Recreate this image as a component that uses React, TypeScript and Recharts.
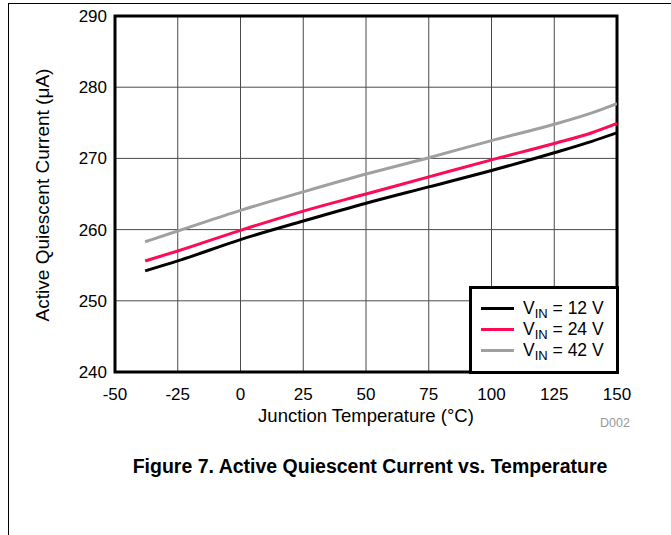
import { LineChart, Line, XAxis, YAxis, CartesianGrid, Legend, ReferenceArea, Label } from "recharts";

const temps = [-38, -25, 0, 25, 50, 75, 100, 125, 140, 150];
const vin12 = [254.2, 255.6, 258.6, 261.2, 263.7, 266.0, 268.3, 270.8, 272.4, 273.6];
const vin24 = [255.6, 257.0, 259.9, 262.6, 265.0, 267.4, 269.8, 272.1, 273.6, 274.9];
const vin42 = [258.3, 259.8, 262.7, 265.3, 267.8, 270.1, 272.5, 274.8, 276.4, 277.7];

const xTicks = [-50, -25, 0, 25, 50, 75, 100, 125, 150];
const yTicks = [240, 250, 260, 270, 280, 290];

const series = [
  { key: "v12", volts: "12", color: "#000000" },
  { key: "v24", volts: "24", color: "#ff0a55" },
  { key: "v42", volts: "42", color: "#a0a0a0" },
];

const data = temps.map((t, i) => ({ t, v12: vin12[i], v24: vin24[i], v42: vin42[i] }));

const FONT = '"Liberation Sans", Arial, Helvetica, sans-serif';

function LegendBox() {
  return (
    <div
      style={{
        boxSizing: "border-box",
        width: 150,
        height: 88,
        border: "3px solid #000",
        background: "#fff",
        paddingTop: 9,
        fontFamily: FONT,
        fontSize: 17.5,
        color: "#000",
      }}
    >
      {series.map((s) => (
        <div key={s.key} style={{ display: "flex", alignItems: "center", height: 21, lineHeight: "21px" }}>
          <span style={{ display: "inline-block", width: 33, height: 3, background: s.color, marginLeft: 9, marginRight: 9 }} />
          <span style={{ whiteSpace: "nowrap" }}>
            V<span style={{ fontSize: 13, position: "relative", top: 4 }}>IN</span> = {s.volts} V
          </span>
        </div>
      ))}
    </div>
  );
}

export default function App() {
  return (
    <div style={{ position: "absolute", left: 0, top: 0, width: 671, height: 535, background: "#fff", fontFamily: FONT }}>
      <div style={{ position: "absolute", left: 8, top: 3, width: 663, height: 1, background: "#000" }} />
      <div style={{ position: "absolute", left: 8, top: 3, width: 1, height: 532, background: "#000" }} />
      <LineChart width={671} height={535} data={data} margin={{ top: 16, right: 54, bottom: 133, left: 0 }}>
        <CartesianGrid stroke="#4a4a4a" strokeWidth={1} />
        <XAxis
          dataKey="t"
          type="number"
          domain={[-50, 150]}
          ticks={xTicks}
          allowDataOverflow
          axisLine={false}
          tickLine={false}
          tickSize={0}
          tickMargin={16}
          height={30}
          tick={{ fill: "#000", fontSize: 17, fontFamily: FONT }}
        >
          <Label
            content={() => (
              <text x={366} y={422} textAnchor="middle" fontSize={18.5} fontFamily={FONT} fill="#000">
                Junction Temperature (°C)
              </text>
            )}
          />
        </XAxis>
        <YAxis
          type="number"
          domain={[240, 290]}
          ticks={yTicks}
          allowDataOverflow
          axisLine={false}
          tickLine={false}
          tickSize={0}
          tickMargin={8}
          width={115}
          tick={{ fill: "#000", fontSize: 17, fontFamily: FONT }}
        >
          <Label
            content={() => (
              <text x={49} y={195} textAnchor="middle" fontSize={19} fontFamily={FONT} fill="#000" transform="rotate(-90, 49, 195)">
                Active Quiescent Current (μA)
              </text>
            )}
          />
        </YAxis>
        {series.map((s) => (
          <Line
            key={s.key}
            dataKey={s.key}
            type="monotone"
            stroke={s.color}
            strokeWidth={3}
            dot={false}
            activeDot={false}
            isAnimationActive={false}
          />
        ))}
        <ReferenceArea x1={-50} x2={150} y1={240} y2={290} fill="none" stroke="#000" strokeWidth={3} ifOverflow="visible" />
        <Legend
          layout="vertical"
          align="center"
          verticalAlign="middle"
          content={() => <LegendBox />}
          wrapperStyle={{ left: 469, top: 286, width: 150, height: 88 }}
        />
      </LineChart>
      <div style={{ position: "absolute", left: 600, top: 416, fontSize: 12.5, color: "#999", fontFamily: FONT }}>D002</div>
      <div
        style={{
          position: "absolute",
          left: 0,
          width: 740,
          top: 455,
          textAlign: "center",
          fontSize: 19.5,
          fontWeight: "bold",
          fontFamily: FONT,
          color: "#000",
        }}
      >
        Figure 7. Active Quiescent Current vs. Temperature
      </div>
    </div>
  );
}
